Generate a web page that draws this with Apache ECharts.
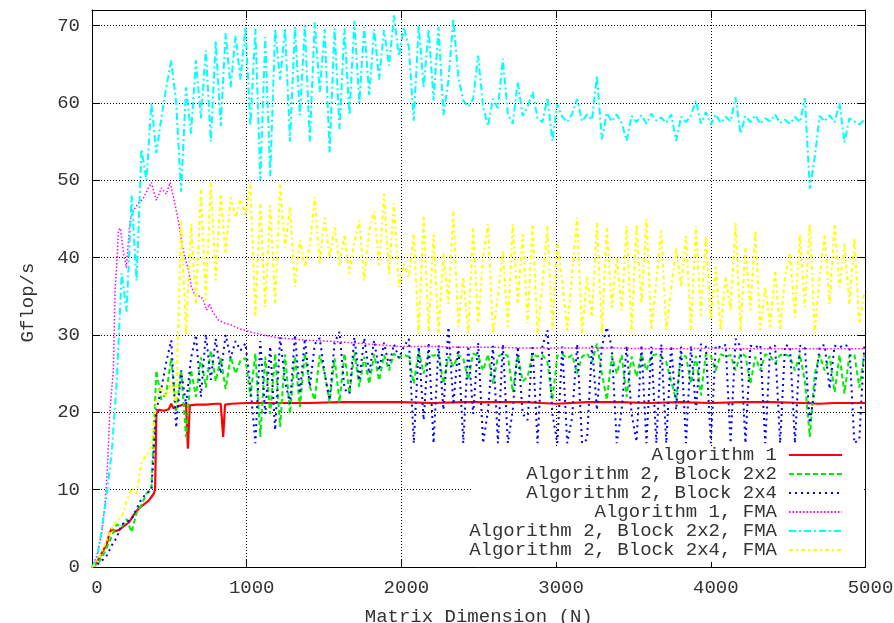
<!DOCTYPE html>
<html><head><meta charset="utf-8">
<script src="https://cdn.jsdelivr.net/npm/echarts@6/dist/echarts.min.js"></script>
<style>html,body{margin:0;padding:0;background:#fff}#c{width:894px;height:623px}</style>
</head><body><div id="c"></div>
<script>
// Matrix dimension grid shared by the four blocked series
const N = [
  0,32,64,96,128,160,192,224,256,288,
  320,352,384,416,448,480,512,544,576,608,
  640,672,704,736,768,800,832,864,896,928,
  960,992,1024,1056,1088,1120,1152,1184,1216,1248,
  1280,1312,1344,1376,1408,1440,1472,1504,1536,1568,
  1600,1632,1664,1696,1728,1760,1792,1824,1856,1888,
  1920,1952,1984,2016,2048,2080,2112,2144,2176,2208,
  2240,2272,2304,2336,2368,2400,2432,2464,2496,2528,
  2560,2592,2624,2656,2688,2720,2752,2784,2816,2848,
  2880,2912,2944,2976,3008,3040,3072,3104,3136,3168,
  3200,3232,3264,3296,3328,3360,3392,3424,3456,3488,
  3520,3552,3584,3616,3648,3680,3712,3744,3776,3808,
  3840,3872,3904,3936,3968,4000,4032,4064,4096,4128,
  4160,4192,4224,4256,4288,4320,4352,4384,4416,4448,
  4480,4512,4544,4576,4608,4640,4672,4704,4736,4768,
  4800,4832,4864,4896,4928,4960,4992
];

// Algorithm 1 : [N, Gflop/s]
const alg1 = [
  [0,0],[32,0.6],[64,1.8],[96,3],[112,4.3],[128,5],[144,4.6],[176,4.8],[208,5.3],[240,5.8],
  [272,6.8],[304,7.6],[336,8.1],[368,8.6],[400,9.5],[408,10],[416,19.8],[432,20.3],[464,20.2],[496,20.4],
  [512,21.1],[528,20.5],[560,20.8],[592,21],[608,21],[620,15.3],[632,20.9],[672,21],[736,21],[800,21.1],
  [832,21.1],[848,16.8],[860,21],[900,21.1],[1000,21.2],[1200,21.2],[1400,21.2],[1600,21.3],[1800,21.3],[2000,21.3],
  [2200,21.2],[2400,21.3],[2600,21.3],[2800,21.3],[2900,21.2],[3000,21.1],[3200,21.3],[3400,21.3],[3600,21.2],[3800,21.3],
  [4000,21.2],[4200,21.3],[4400,21.3],[4600,21.2],[4700,21.1],[4800,21.2],[5000,21.2]
];

// Algorithm 1, FMA : [N, Gflop/s]
const alg1Fma = [
  [0,0],[32,1.5],[64,4.5],[85,8.3],[100,13],[115,20],[138,25.4],[149,35.8],[160,39],[171,43.5],
  [183,43.8],[209,40],[222,38.7],[246,44.8],[268,46.1],[300,47],[330,47.6],[365,49],[385,49.7],[400,48.5],
  [416,47.4],[449,49],[480,48.2],[505,49.7],[530,47.5],[558,44.8],[584,41.5],[600,40],[624,38.4],[642,36.2],
  [667,35.1],[700,35],[720,34.5],[740,33.2],[760,34],[780,33],[818,31.9],[860,31.5],[900,31.3],[950,30.8],
  [1000,30.5],[1100,30],[1218,29.6],[1400,29.3],[1606,29.1],[1800,28.8],[2000,28.5],[2200,28.5],[2400,28.4],[2600,28.4],
  [2800,28.3],[3000,28.3],[3200,28.3],[3400,28.3],[3600,28.2],[3800,28.2],[4000,28.3],[4200,28.2],[4400,28.2],[4600,28.2],
  [4800,28.2],[5000,28.2]
];

// Algorithm 2, Block 2x2 (values at N)
const alg2b22 = [
  0,0.3,1.2,2.5,4,5.5,5.2,6.2,4.5,7,
  8,9.5,10,25.4,21.6,22.5,27,20,25.4,16.8,
  25.5,22,27.1,23.2,28,24,27,23,27.2,25,
  26.7,27,22,27.6,16.8,27.2,19.8,27.6,18.1,27.5,
  19.8,27.2,20.7,27.6,23.3,21.6,27.4,25,21.3,27,
  21.3,27.6,22.4,27.8,23.3,27.2,23.7,27.5,24.1,27.4,
  25.4,27.6,27,27.4,27.2,23.7,28,25,27.5,27.3,
  27.6,23.7,27.2,25.9,27.4,27,24.2,27.6,27.3,25.4,
  27.5,23.7,27.2,27.6,27.3,22.6,27.4,24,24.6,27.5,
  27.2,27.4,26.5,21.6,27.3,27.5,27,27.4,25,27.2,
  27.6,26.5,28.9,25,21.6,27.3,25,27.4,22,27.2,
  24.6,27.5,25.4,27.3,27.5,27.2,26.5,24,21.6,27.4,
  27.2,23.7,27.3,22.2,27.5,27.3,25.4,27.5,27.2,27.4,
  25.4,27.6,27.3,23.7,27.2,25.4,27.5,27.3,26.3,27.4,
  27.5,27.2,25.4,27.5,24,16.8,25,27.4,25.4,27.3,
  22.6,27.4,22.4,27.3,27.5,23.2,27.4
];

// Algorithm 2, Block 2x4 (values at N)
const alg2b24 = [
  0,0.3,0.8,1.5,2.8,3.8,5.5,5.8,6.2,7.5,
  8.8,9.5,10,20.3,23,26.5,29.3,18,25.4,21,
  27,30,22,30.1,24.2,29.5,25,30,27,29.2,
  28,28.9,23.3,16,29.2,19.8,28.5,17.7,29.7,24,
  21.1,30,22.4,29.5,23.3,28.8,29.6,25,21.6,29,
  30.4,23,22.4,29.7,24.1,29.6,25,29.3,25.4,29,
  26,28.8,27,28.5,29.5,16,28.5,19,29,16,
  28.7,20.3,31,21,28.5,16,28.6,19.8,29,16,
  20.3,28.6,16,28.8,16,20.3,28.5,19.8,19,28.7,
  16,28.6,30.6,19.8,16,28.5,16,19.4,28.8,16,
  16.5,28.6,20.3,28.5,31,28.4,16,20.3,28.6,19.8,
  16.2,28.7,16,28.5,16,28.8,16,28.6,20.3,28.5,
  16,28.6,20.3,28.8,28.5,16,28.6,28.4,28.7,16,
  29.5,28.5,16,28.6,28.4,28.7,16,28.5,28.6,16,
  28.7,28.5,16,28.6,28.4,18.6,23,28.5,28.7,23,
  28.6,28.4,28.7,28.5,16,16.5,28.5
];

// Algorithm 2, Block 2x2, FMA (values at N)
const alg2b22Fma = [
  0,1.0,5,9.5,15,24,38,33,48,37,
  54,50,60,53.5,58,62,65.5,60,48.5,62,
  56,65.5,58,66.8,55,68,57,69,62,68.7,
  63,69.8,57,69.6,50,68.5,50.5,69.5,63,69.6,
  55,69.8,58.4,70,55,70.4,61.4,69.5,53.6,69.6,
  56.6,69.6,58.4,70.6,60,69.8,61,69.5,63,69.4,
  64.8,71.3,66,69.8,67.2,57.7,70,62,69.5,60.3,
  69.8,58.4,62.9,70.9,63.3,60.3,59.5,60.5,66.1,59.5,
  57,60.5,59.3,65.7,58.5,57.3,62.7,58.3,59.5,61.4,
  58,57.5,60.7,55.1,59.8,58.2,57.5,58.6,60.5,57.6,
  58.5,57.8,63.5,55.3,58.7,57.6,58.5,57.4,55.1,58.3,
  57.5,58.4,57.3,58.6,57.7,58.1,57.4,58.5,55.1,58.2,
  57.5,58.4,60.3,57.3,58.8,57.2,58.5,57.4,58.2,57.6,
  60.7,56,58.3,57.5,58.4,57.3,58,57.6,58.5,57.4,
  57.8,57.3,58.2,57.5,60.6,48.9,53,58.3,57.6,58.4,
  57.5,60,54.9,58,57.6,57.2,57.8
];

// Algorithm 2, Block 2x4, FMA (values at N)
const alg2b24Fma = [
  0,0.5,2,3.5,5,6,6.5,8.5,10.2,9.5,
  13.5,14.5,15.5,21.5,23.3,22,24,21,44.8,30,
  44.3,34,48.8,34.5,49.7,37,48.2,40.5,47.8,45.2,
  47.5,45.5,49.5,32.3,47,33.6,46.8,34,49.5,41.3,
  46.5,36.2,42.2,38.8,41.5,47.8,39.2,45.2,40,43.9,
  39,43,37.9,42,44.8,37,43.5,46,39,48.2,
  37.9,47,36.2,39.2,37.5,43,30.2,45.4,30.5,43,
  30.2,40.5,34,46,31,37.5,30.2,43.9,31.5,40,
  44.3,30.2,35,40.9,31,44.3,34,43,31.5,44.3,
  30.2,36.6,44.1,30.6,41.8,37,30.6,38,45.2,30.2,
  37.5,32.3,44.5,30.2,43.9,33.5,40,33.2,44.1,30.2,
  44.3,34,45,30.6,37,43.5,30.6,36,41.3,36.2,
  42.8,30.6,44.1,32.5,42.8,32,38.8,30.6,37.5,33.2,
  44.5,30.6,41.3,33.2,43.5,30.6,36.2,31,38.3,30.6,
  37.5,40.5,32.3,43,33.6,44.3,30.2,37.5,43,34,
  44.3,36.2,41.8,34,42.5,31.5,35.3
];

const seriesNames = [
  'Algorithm 1',
  'Algorithm 2, Block 2x2',
  'Algorithm 2, Block 2x4',
  'Algorithm 1, FMA',
  'Algorithm 2, Block 2x2, FMA',
  'Algorithm 2, Block 2x4, FMA'
];
const xTicks = [0, 1000, 2000, 3000, 4000, 5000];

const FONT = '"Liberation Mono","Courier New",monospace';
const pairs = ys => N.map((x, i) => [x, ys[i]]);

const styles = [
  {color:'#ff0000', width:2.2, type:'solid'},
  {color:'#00ee00', width:2, type:[5,3]},
  {color:'#0000ff', width:2, type:[2,4]},
  {color:'#ff00ff', width:1.5, type:[1.5,2]},
  {color:'#00ffff', width:2, type:[7,3,2,3]},
  {color:'#ffff00', width:2, type:[4,3,2,3]}
];
const datasets = [alg1, pairs(alg2b22), pairs(alg2b24), alg1Fma, pairs(alg2b22Fma), pairs(alg2b24Fma)];

const series = seriesNames.map((name, k) => ({
  name, type:'line', data: datasets[k], showSymbol:false, symbol:'none',
  silent:true, animation:false,
  itemStyle:{color: styles[k].color},
  lineStyle:{color: styles[k].color, width: styles[k].width, type: styles[k].type}
}));

const legendTops = [445.5, 464.5, 483.5, 502.5, 521.5, 540.5];
const legends = seriesNames.map((name, k) => ({
  data:[name], right:51, top: legendTops[k], orient:'vertical', align:'right',
  padding:0, itemWidth:53, itemHeight:14, z:110, selectedMode:false,
  itemStyle:{opacity:0, borderWidth:0},
  textStyle:{fontFamily:FONT, fontSize:19, color:'#333', padding:[0,7,0,0]}
}));

const tick = {show:true, inside:true, length:8, lineStyle:{color:'#000', width:1}};
const gridLine = {show:true, lineStyle:{color:'#000', width:1, type:[1,2]}};
const axLine = {show:true, onZero:false, lineStyle:{color:'#000', width:1}};

const chart = echarts.init(document.getElementById('c'), null, {renderer:'canvas'});
chart.setOption({
  animation:false,
  backgroundColor:'#fff',
  grid:{left:92, right:28.5, top:10, bottom:56, containLabel:false, outerBoundsMode:'none'},
  xAxis:[
    {type:'value', position:'bottom', min:xTicks[0], max:xTicks[xTicks.length-1], interval:1000,
     axisLine:axLine, axisTick:tick, splitLine:gridLine,
     axisLabel:{margin:11, color:'#333', fontSize:19, fontFamily:FONT, padding:[0,0,0,10],
       formatter: v => String(v)},
     name:'Matrix Dimension (N)', nameLocation:'middle', nameGap:40,
     nameTextStyle:{fontFamily:FONT, fontSize:19, color:'#333'}},
    {type:'value', position:'top', min:0, max:5000, interval:1000,
     axisLine:axLine, axisTick:tick, axisLabel:{show:false}, splitLine:{show:false}}
  ],
  yAxis:[
    {type:'value', position:'left', min:0, max:72, interval:10,
     axisLine:axLine, axisTick:tick, splitLine:gridLine,
     axisLabel:{margin:12, showMaxLabel:false, color:'#333', fontSize:19, fontFamily:FONT,
       formatter: v => (v % 10 === 0 ? String(v) : '')},
     name:'Gflop/s', nameLocation:'middle', nameRotate:90, nameGap:55,
     nameTextStyle:{fontFamily:FONT, fontSize:19, color:'#333', padding:[0,28,0,0]}},
    {type:'value', position:'right', min:0, max:72, interval:10,
     axisLine:axLine, axisTick:tick, axisLabel:{show:false}, splitLine:{show:false}}
  ],
  legend: legends,
  graphic:[{type:'rect', z:100, silent:true,
    shape:{x:472, y:446, width:392, height:116}, style:{fill:'#fff'}}],
  series
});
</script>
</body></html>
